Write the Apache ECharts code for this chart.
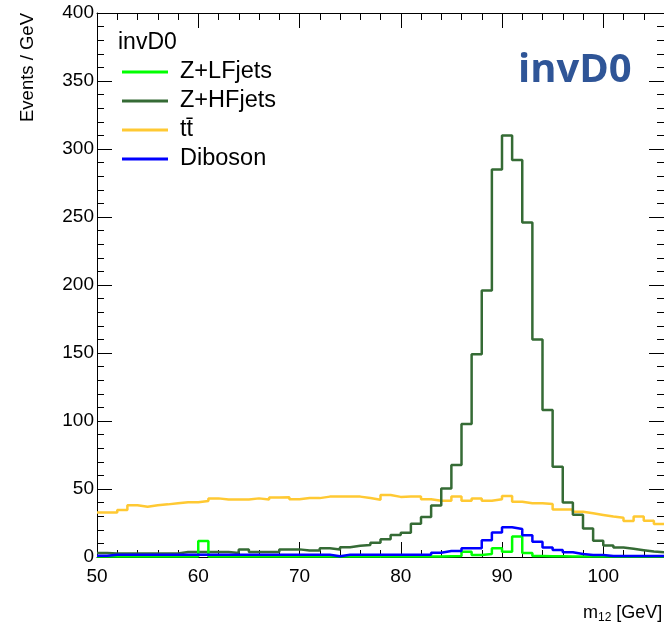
<!DOCTYPE html>
<html>
<head>
<meta charset="utf-8">
<script src="https://cdn.jsdelivr.net/npm/echarts@6/dist/echarts.min.js"></script>
<style>
  html, body { margin: 0; padding: 0; background: #fff; }
  #main { width: 664px; height: 622px; }
</style>
</head>
<body>
<div id="main"></div>
<script>
// bins of 1 GeV, first bin starts at 50 GeV
var binLow = 50;
var binWidth = 1;

// Z+LF jets, bins 50..105
var zlfJets = [
  0.3, 0.3, 0.3, 0.3, 0.3, 0.3, 0.3, 0.3, 0.3, 0.3,
  11.8, 0.3, 0.3, 0.3, 0.3, 0.3, 0.3, 0.3, 0.3, 0.3,
  0.3, 0.3, 0.3, 0.3, 0.3, 0.3, 0.3, 0.3, 0.3, 0.3,
  0.3, 0.3, 0.3, 0.3, 0.6, 0.8, 3.9, 1.5, 2.2, 6.4,
  3.9, 15.0, 3.0, 0.7, 0.5, 0.5, 0.4, 0.3, 0.3, 0.3,
  0.3, 0.3, 0.3, 0.3, 0.3, 0.3
];
// Z+HF jets
var zhfJets = [
  3.0, 2.5, 2.5, 2.5, 2.5, 2.5, 2.5, 2.5, 3.7, 3.7,
  3.7, 3.7, 3.7, 2.9, 5.6, 3.7, 3.7, 3.7, 5.6, 5.6,
  4.7, 4.7, 6.4, 5.6, 7.2, 8.3, 8.8, 10.5, 13.0, 16.2,
  17.8, 24.5, 29.5, 37.8, 50.3, 67.6, 97.8, 149, 196, 285,
  310, 292, 246, 160, 108, 66.4, 40, 31, 21, 12,
  8.5, 7, 6, 5, 4, 3.5
];
// ttbar
var ttbar = [
  32.7, 32.7, 34.6, 38.0, 37.0, 38.0, 38.7, 39.5, 40.2, 40.2,
  41.2, 43.1, 42.2, 42.2, 42.2, 43.1, 42.2, 43.8, 44.0, 42.4,
  43.3, 43.3, 44.4, 44.4, 44.4, 44.4, 43.4, 42.1, 45.6, 44.2,
  44.4, 44.4, 42.4, 41.4, 41.4, 44.4, 41.4, 43.0, 41.4, 42.4,
  44.8, 40.7, 39.5, 39.5, 39.0, 35.0, 35.0, 33.3, 32.1, 30.9,
  29.7, 28.9, 26.5, 29.7, 26.7, 24.3
];
// Diboson
var diboson = [
  1.0, 1.6, 1.6, 1.6, 1.6, 1.6, 1.6, 1.6, 1.6, 1.6,
  1.6, 1.6, 1.6, 1.6, 1.6, 1.6, 1.6, 1.6, 1.6, 1.6,
  1.6, 1.6, 1.6, 0.5, 1.6, 1.6, 1.6, 1.6, 1.6, 1.6,
  1.6, 1.6, 1.6, 3.2, 4.4, 4.4, 6.4, 6.4, 12.3, 18.1,
  21.8, 20.6, 16.0, 11.3, 7.0, 5.1, 3.5, 2.2, 1.5, 1.5,
  0.7, 0.7, 0.7, 0.7, 0.7, 0.7
];

var names = ['Z+LFjets', 'Z+HFjets', 't\u0074\u0304', 'Diboson'];
var colors = ['#00ff00', '#356b35', '#ffc933', '#0000ff'];

var xMin = 50, xMax = 106;
var yMin = 0, yMax = 400;

// histogram outline: one point per low edge, plus closing point
function histPoints(vals) {
  var pts = vals.map(function (v, i) { return [binLow + i * binWidth, v]; });
  pts.push([binLow + vals.length * binWidth, vals[vals.length - 1]]);
  return pts;
}

function histSeries(name, vals, color) {
  return {
    name: name,
    type: 'line',
    step: 'end',
    data: histPoints(vals),
    showSymbol: false,
    symbol: 'none',
    silent: true,
    animation: false,
    itemStyle: { color: color },
    lineStyle: { color: color, width: 2.5 }
  };
}

var font = 'Liberation Sans, Arial, sans-serif';

var tickX = { show: true, inside: true, length: 15, lineStyle: { color: '#000', width: 1 } };
var minorX = { show: true, splitNumber: 5, length: 7, lineStyle: { color: '#000', width: 1 } };
var tickY = { show: true, inside: true, length: 15, lineStyle: { color: '#000', width: 1 } };
var minorY = { show: true, splitNumber: 5, length: 7, lineStyle: { color: '#000', width: 1 } };

var myChart = echarts.init(document.getElementById('main'), null, { renderer: 'canvas' });

var option = {
  backgroundColor: '#fff',
  animation: false,
  grid: { left: 97, right: -1, top: 13, bottom: 65, containLabel: false },
  xAxis: [{
    type: 'value', min: xMin, max: xMax, interval: 10,
    axisLine: { show: true, onZero: false, lineStyle: { color: '#000', width: 1 } },
    axisTick: tickX, minorTick: minorX,
    splitLine: { show: false },
    axisLabel: { color: '#000', fontSize: 19, fontFamily: font, margin: 10, showMaxLabel: false,
      formatter: function (v) { return v % 10 === 0 ? String(v) : ''; } }
  }, {
    type: 'value', position: 'top', min: xMin, max: xMax, interval: 10,
    axisLine: { show: true, onZero: false, lineStyle: { color: '#000', width: 1 } },
    axisTick: tickX, minorTick: minorX,
    splitLine: { show: false }, axisLabel: { show: false }
  }],
  yAxis: [{
    type: 'value', min: yMin, max: yMax, interval: 50,
    axisLine: { show: true, onZero: false, lineStyle: { color: '#000', width: 1 } },
    axisTick: tickY, minorTick: minorY,
    splitLine: { show: false },
    axisLabel: { color: '#000', fontSize: 19, fontFamily: font, margin: 3 }
  }, {
    type: 'value', position: 'right', min: yMin, max: yMax, interval: 50,
    axisLine: { show: true, onZero: false, lineStyle: { color: '#000', width: 1 } },
    axisTick: tickY, minorTick: minorY,
    splitLine: { show: false }, axisLabel: { show: false }
  }],
  legend: {
    data: names,
    orient: 'vertical',
    left: 122, top: 60,
    padding: 0,
    icon: 'rect',
    itemWidth: 46, itemHeight: 3, itemGap: 5,
    selectedMode: false,
    textStyle: { fontSize: 23.5, fontFamily: font, color: '#000', lineHeight: 23, padding: [0, 0, 0, 7] }
  },
  graphic: [
    { type: 'text', left: 118, top: 31,
      style: { text: 'invD0', font: '23px ' + font, fill: '#000' } },
    { type: 'text', left: 518, top: 51,
      style: { text: 'invD0', font: 'bold 40px "Open Sans", sans-serif', fill: '#2f5597' } },
    { type: 'text', x: 18, y: 13, rotation: Math.PI / 2,
      style: { text: 'Events / GeV', font: '18.5px ' + font, fill: '#000', align: 'right', verticalAlign: 'top' } },
    { type: 'text', x: 583, y: 602,
      style: { text: 'm{s|12} [GeV]', font: '18px ' + font, fill: '#000',
        rich: { s: { fontSize: 12, fontFamily: font, padding: [10, 0, 0, 0] } } } }
  ],
  series: [
    histSeries(names[2], ttbar, colors[2]),
    histSeries(names[1], zhfJets, colors[1]),
    histSeries(names[0], zlfJets, colors[0]),
    histSeries(names[3], diboson, colors[3])
  ]
};

myChart.setOption(option);
</script>
</body>
</html>
